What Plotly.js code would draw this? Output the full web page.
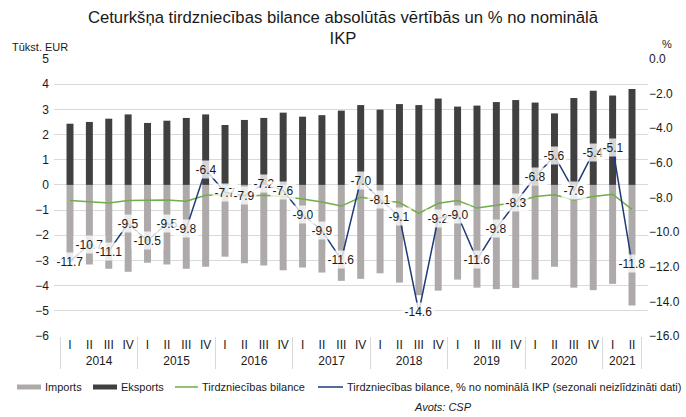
<!DOCTYPE html>
<html>
<head>
<meta charset="utf-8">
<script src="https://cdn.plot.ly/plotly-3.0.1.min.js"></script>
<style>html,body{margin:0;padding:0;background:#fff;}#chart{width:686px;height:417px;}</style>
</head>
<body>
<div id="chart"></div>
<script>
var years = ['2014','2015','2016','2017','2018','2019','2020','2021'];
var quarters = ['I','II','III','IV'];
var quarterCounts = [4,4,4,4,4,4,4,2];

var eksports = [2.43,2.50,2.63,2.80, 2.46,2.55,2.66,2.80, 2.38,2.58,2.66,2.87, 2.71,2.77,2.95,3.17,
                2.99,3.21,3.17,3.43, 3.11,3.15,3.29,3.37, 3.27,2.84,3.45,3.74, 3.55,3.81];
var imports = [-3.05,-3.16,-3.33,-3.45, -3.09,-3.16,-3.33,-3.25, -2.85,-3.11,-3.20,-3.39, -3.28,-3.48,-3.81,-3.73,
               -3.51,-3.88,-4.38,-4.20, -3.76,-4.08,-4.14,-4.09, -3.76,-3.25,-4.08,-4.18, -3.93,-4.79];
var bilance = [-0.62,-0.66,-0.72,-0.62, -0.60,-0.60,-0.65,-0.41, -0.39,-0.46,-0.41,-0.46, -0.56,-0.68,-0.84,-0.49,
               -0.60,-0.70,-1.13,-0.73, -0.62,-0.92,-0.81,-0.70, -0.46,-0.39,-0.60,-0.46, -0.37,-0.97];
var bilanceIKP = [-11.7,-10.7,-11.1,-9.5, -10.5,-9.5,-9.8,-6.4, -7.7,-7.9,-7.2,-7.6, -9.0,-9.9,-11.6,-7.0,
                  -8.1,-9.1,-14.6,-9.2, -9.0,-11.6,-9.8,-8.3, -6.8,-5.6,-7.6,-5.4, -5.1,-11.8];

var seriesNames = ['Imports','Eksports','Tirdzniecības bilance',
                   'Tirdzniecības bilance, % no nominālā IKP (sezonali neizlīdzināti dati)'];
var colors = ['#AEAAAA','#404040','#70AD47','#1F3A78'];

var xYear = [], xQuarter = [];
years.forEach(function(y, i){
  for (var q = 0; q < quarterCounts[i]; q++) { xYear.push(y); xQuarter.push(quarters[q]); }
});
var xCat = [xYear, xQuarter];

var font = 'Liberation Sans, Arial, sans-serif';
var txt = '#1a1a1a';

// plot area in pixels (for converting fixed page positions of decorations)
var L = 54, R = 648, T = 59, B = 336;
function px(x){ return (x - L) / (R - L); }
function py(y){ return (B - y) / (B - T); }

var traces = [
  {type:'bar', name:seriesNames[0], x:xCat, y:imports, marker:{color:colors[0]}, yaxis:'y'},
  {type:'bar', name:seriesNames[1], x:xCat, y:eksports, marker:{color:colors[1]}, yaxis:'y'},
  {type:'scatter', mode:'lines', name:seriesNames[2], x:xCat, y:bilance,
   line:{color:colors[2], width:1.5}, yaxis:'y'},
  {type:'scatter', mode:'lines', name:seriesNames[3], x:xCat, y:bilanceIKP,
   line:{color:colors[3], width:1.5}, yaxis:'y2'}
];

var annotations = bilanceIKP.map(function(v, i){
  return {x:i, y:v, xref:'x', yref:'y2', text:v.toFixed(1), showarrow:false,
          font:{family:font, size:12, color:txt}, bgcolor:'rgba(255,255,255,0.78)',
          borderpad:1.5, xanchor:'center', yanchor:'middle'};
});
annotations.push({xref:'paper', yref:'paper', x:px(10), y:py(47), xanchor:'left', yanchor:'middle',
  text:'Tūkst. EUR', showarrow:false, font:{family:font, size:11, color:txt}});
annotations.push({xref:'paper', yref:'paper', x:px(660), y:py(44), xanchor:'left', yanchor:'middle',
  text:'%', showarrow:false, font:{family:font, size:11, color:txt}});
annotations.push({xref:'paper', yref:'paper', x:px(443), y:py(407), xanchor:'center', yanchor:'middle',
  text:'<i>Avots: CSP</i>', showarrow:false, font:{family:font, size:11, color:txt}});

// manual legend (single row, as in the reference)
var legY = 387;
var legItems = [
  {kind:'rect', x0:17, x1:41, tx:43},
  {kind:'rect', x0:93, x1:117, tx:119},
  {kind:'line', x0:175, x1:198, tx:200},
  {kind:'line', x0:318, x1:343, tx:345}
];
var shapes = [];
legItems.forEach(function(it, i){
  if (it.kind === 'rect') {
    shapes.push({type:'rect', xref:'paper', yref:'paper', x0:px(it.x0), x1:px(it.x1),
      y0:py(legY-2.5), y1:py(legY+2.5), fillcolor:colors[i], line:{width:0}});
  } else {
    shapes.push({type:'line', xref:'paper', yref:'paper', x0:px(it.x0), x1:px(it.x1),
      y0:py(legY), y1:py(legY), line:{color:colors[i], width:1.5}});
  }
  annotations.push({xref:'paper', yref:'paper', x:px(it.tx), y:py(legY), xanchor:'left', yanchor:'middle',
    text:seriesNames[i], showarrow:false, font:{family:font, size:11, color:txt}});
});

var layout = {
  width:686, height:417,
  margin:{l:L, r:686-R, t:T, b:417-B},
  paper_bgcolor:'#fff', plot_bgcolor:'#fff',
  title:{text:'Ceturkšņa tirdzniecības bilance absolūtās vērtībās un % no nominālā<br>IKP',
         font:{family:font, size:16.7, color:txt}, x:0.5, xanchor:'center', y:0.946, yanchor:'top'},
  barmode:'relative', bargap:0.64,
  showlegend:false,
  xaxis:{type:'multicategory', tickfont:{family:font, size:12, color:txt},
         showdividers:true, dividercolor:'#D9D9D9', dividerwidth:1,
         showline:false, ticks:'', showgrid:false, automargin:false},
  yaxis:{range:[-6,5], dtick:1, tick0:0, showgrid:true, gridcolor:'#D9D9D9', gridwidth:1,
         zeroline:true, zerolinecolor:'#D9D9D9', zerolinewidth:1, ticklabelstandoff:4,
         tickfont:{family:font, size:12, color:txt}, automargin:false},
  yaxis2:{range:[-16,0], dtick:2, tick0:0, overlaying:'y', side:'right', showgrid:false, zeroline:false,
          tickformat:'.1f', tickfont:{family:font, size:12, color:txt}, automargin:false},
  shapes:shapes,
  annotations:annotations
};

Plotly.newPlot('chart', traces, layout, {staticPlot:true, displayModeBar:false});
</script>
</body>
</html>
